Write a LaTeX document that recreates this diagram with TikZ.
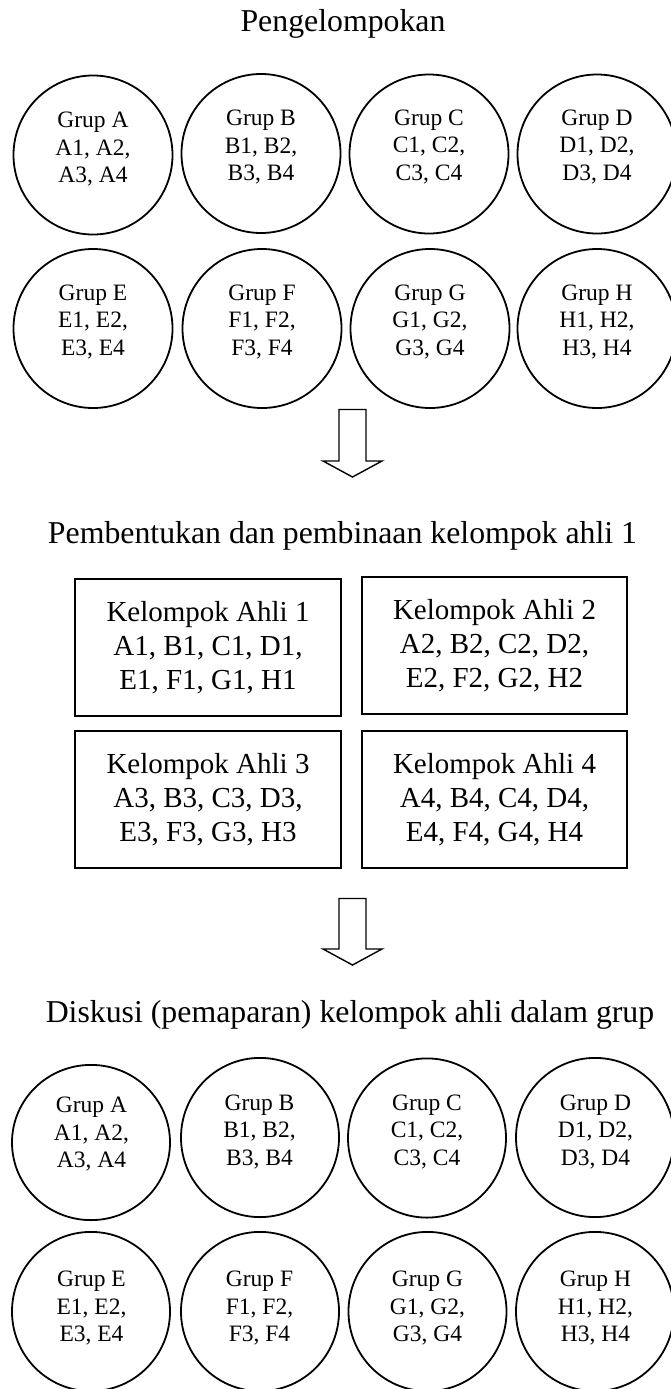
\documentclass[tikz,border=0pt]{standalone}
\usepackage{fontspec}
\setmainfont{Liberation Serif}
\usetikzlibrary{shapes.geometric}
\tikzset{
  grupc/.style={circle, draw, line width=1.8pt, minimum size=159pt, inner sep=0pt},
  grupe/.style={ellipse, draw, line width=1.8pt, minimum width=158pt, inner sep=0pt},
  gtext/.style={align=center, font=\fontsize{23.5}{27.5}\selectfont, inner sep=0pt},
  ahli/.style={draw, line width=2pt, minimum width=266pt, minimum height=137pt, align=center,
               font=\fontsize{29}{34}\selectfont, inner sep=0pt},
  judul/.style={font=\fontsize{31.8}{38}\selectfont, anchor=base, inner sep=0pt},
  panah/.style={draw, line width=1.4pt, line join=miter}
}
\begin{document}
\begin{tikzpicture}[x=1pt,y=-1pt]
\useasboundingbox (0,0) rectangle (671,1389);

% ---- Section 1
\node[judul] (t1) at (343,32) {Pengelompokan};

\node[grupc] (a1) at (93,155) {};
\node[grupc] (b1) at (261,153.5) {};
\node[grupc] (c1) at (429,154) {};
\node[grupc] (d1) at (597,154) {};
\node[grupc] (e1) at (93,328.5) {};
\node[grupc] (f1) at (262,328.5) {};
\node[grupc] (g1) at (430,328.5) {};
\node[grupc] (h1) at (597,328.5) {};

\node[gtext] (a1t) at (93,149.5) {Grup A\\A1, A2,\\A3, A4};
\node[gtext] (b1t) at (261,147.4) {Grup B\\B1, B2,\\B3, B4};
\node[gtext] (c1t) at (429,147) {Grup C\\C1, C2,\\C3, C4};
\node[gtext] (d1t) at (597,147) {Grup D\\D1, D2,\\D3, D4};
\node[gtext] (e1t) at (93,321.7) {Grup E\\E1, E2,\\E3, E4};
\node[gtext] (f1t) at (262,321.7) {Grup F\\F1, F2,\\F3, F4};
\node[gtext] (g1t) at (430,321.6) {Grup G\\G1, G2,\\G3, G4};
\node[gtext] (h1t) at (597,321.6) {Grup H\\H1, H2,\\H3, H4};

% arrow 1
\draw[panah] (339,409.5) -- (366,409.5) -- (366,461) -- (382,461) -- (352.5,477)
  -- (323,461) -- (339,461) -- cycle;

% ---- Section 2
\node[judul] (t2) at (342.5,543) {Pembentukan dan pembinaan kelompok ahli 1};

\node[ahli] (k1) at (208,647.5) {Kelompok Ahli 1\\A1, B1, C1, D1,\\E1, F1, G1, H1};
\node[ahli, minimum width=265pt] (k2) at (494.5,645.5) {Kelompok Ahli 2\\A2, B2, C2, D2,\\E2, F2, G2, H2};
\node[ahli] (k3) at (208,799.5) {Kelompok Ahli 3\\A3, B3, C3, D3,\\E3, F3, G3, H3};
\node[ahli, minimum width=265pt] (k4) at (494.5,799.5) {Kelompok Ahli 4\\A4, B4, C4, D4,\\E4, F4, G4, H4};

% arrow 2
\draw[panah] (339,898.5) -- (366,898.5) -- (366,949) -- (382,949) -- (352.5,965)
  -- (323,949) -- (339,949) -- cycle;

% ---- Section 3
\node[judul] (t3) at (350,1022) {Diskusi (pemaparan) kelompok ahli dalam grup};

\node[grupe, minimum height=155.2pt] (a2) at (91,1142.5) {};
\node[grupe, minimum height=159.2pt] (b2) at (260,1137.5) {};
\node[grupe, minimum height=159.2pt] (c2) at (427,1138) {};
\node[grupe, minimum height=159.2pt] (d2) at (595,1137.5) {};
\node[grupe, minimum height=159.2pt] (e2) at (91,1311.5) {};
\node[grupe, minimum height=159.2pt] (f2) at (260,1311.5) {};
\node[grupe, minimum height=159.2pt] (g2) at (427.5,1311.5) {};
\node[grupe, minimum height=159.2pt] (h2) at (595,1311.5) {};

\node[gtext] (a2t) at (91.5,1134.2) {Grup A\\A1, A2,\\A3, A4};
\node[gtext] (b2t) at (259.5,1132) {Grup B\\B1, B2,\\B3, B4};
\node[gtext] (c2t) at (427,1132) {Grup C\\C1, C2,\\C3, C4};
\node[gtext] (d2t) at (595.5,1132) {Grup D\\D1, D2,\\D3, D4};
\node[gtext] (e2t) at (91.5,1308.4) {Grup E\\E1, E2,\\E3, E4};
\node[gtext] (f2t) at (259.5,1308.4) {Grup F\\F1, F2,\\F3, F4};
\node[gtext] (g2t) at (427.5,1308.4) {Grup G\\G1, G2,\\G3, G4};
\node[gtext] (h2t) at (595.5,1308.4) {Grup H\\H1, H2,\\H3, H4};
\end{tikzpicture}
\end{document}
